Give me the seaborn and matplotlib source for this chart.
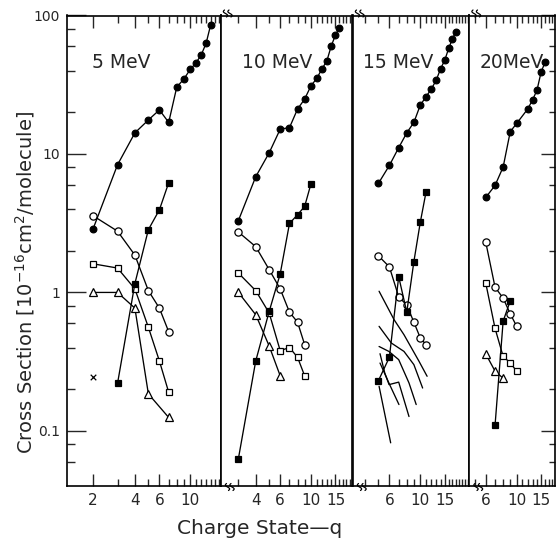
import numpy as np
import pandas as pd
import matplotlib
matplotlib.use("Agg")
import matplotlib.pyplot as plt
import seaborn as sns
from matplotlib.lines import Line2D
from matplotlib.ticker import NullFormatter

sns.set_style("ticks")
plt.rcParams["font.family"] = ["DejaVu Sans"]

# ---------------- data: cross sections (1e-16 cm^2/molecule) vs charge state q
panel_titles = ["5 MeV", "10 MeV", "15 MeV", "20MeV"]

# 5 MeV
q5_fc = [2, 3, 4, 5, 6, 7, 8, 9, 10, 11, 12, 13, 14]
s5_fc = [2.87, 8.35, 14.2, 17.6, 20.8, 16.9, 30.4, 34.8, 40.8, 45.5, 52, 63, 85]
q5_oc = [2, 3, 4, 5, 6, 7]
s5_oc = [3.58, 2.77, 1.86, 1.03, 0.77, 0.52]
q5_os = [2, 3, 4, 5, 6, 7]
s5_os = [1.61, 1.50, 1.06, 0.56, 0.32, 0.19]
q5_tr = [2, 3, 4, 5, 7]
s5_tr = [1.0, 1.0, 0.77, 0.185, 0.125]
q5_fs = [3, 4, 5, 6, 7]
s5_fs = [0.22, 1.16, 2.84, 3.95, 6.2]
q5_x = [2]
s5_x = [0.245]

# 10 MeV
q10_fc = [3, 4, 5, 6, 7, 8, 9, 10, 11, 12, 13, 14, 15, 16]
s10_fc = [3.3, 6.85, 10.2, 15.1, 15.5, 21.1, 24.9, 31.1, 35.1, 41.2, 46.9, 60.4, 72.2, 81.9]
q10_oc = [3, 4, 5, 6, 7, 8, 9]
s10_oc = [2.73, 2.14, 1.46, 1.06, 0.72, 0.61, 0.42]
q10_os = [3, 4, 5, 6, 7, 8, 9]
s10_os = [1.38, 1.03, 0.71, 0.38, 0.40, 0.34, 0.25]
q10_tr = [3, 4, 5, 6]
s10_tr = [1.0, 0.69, 0.41, 0.25]
q10_fs = [3, 4, 5, 6, 7, 8, 9, 10]
s10_fs = [0.063, 0.32, 0.73, 1.36, 3.15, 3.64, 4.18, 6.1]

# 15 MeV
q15_fc = [5, 6, 7, 8, 9, 10, 11, 12, 13, 14, 15, 16, 17, 18]
s15_fc = [6.12, 8.26, 11.1, 14.2, 16.9, 22.5, 25.9, 29.4, 34.0, 41.2, 47.6, 57.8, 67.6, 76.3]
q15_oc = [5, 6, 7, 8, 9, 10, 11]
s15_oc = [1.84, 1.53, 0.93, 0.81, 0.61, 0.47, 0.42]
q15_fs = [5, 6, 7, 8, 9, 10, 11]
s15_fs = [0.23, 0.34, 1.30, 0.72, 1.67, 3.2, 5.3]
# curves drawn without symbols
q15_c1 = [5.06, 6.49, 7.64, 9.8, 11.2]
s15_c1 = [1.02, 0.635, 0.495, 0.318, 0.248]
q15_c2 = [5.06, 6.2, 7.64, 9.0, 10.4]
s15_c2 = [0.569, 0.431, 0.375, 0.301, 0.204]
q15_c3 = [5.06, 5.95, 7.0, 8.3, 9.35]
s15_c3 = [0.407, 0.375, 0.327, 0.222, 0.155]
q15_c4 = [5.14, 5.56, 5.97, 7.0, 8.3]
s15_c4 = [0.361, 0.262, 0.216, 0.225, 0.127]
q15_c5 = [5.14, 5.95, 7.03]
s15_c5 = [0.309, 0.222, 0.155]
q15_c6 = [5.06, 6.13]
s15_c6 = [0.21, 0.082]

# 20 MeV
q20_fc = [6, 7, 8, 9, 10, 12, 13, 14, 15, 16]
s20_fc = [4.85, 5.93, 8.04, 14.5, 16.6, 21.1, 24.5, 28.9, 39.2, 45.9]
q20_oc = [6, 7, 8, 9, 10]
s20_oc = [2.31, 1.09, 0.91, 0.70, 0.57]
q20_os = [6, 7, 8, 9, 10]
s20_os = [1.17, 0.55, 0.345, 0.31, 0.27]
q20_tr = [6, 7, 8]
s20_tr = [0.36, 0.27, 0.24]
q20_fs = [7, 8, 9]
s20_fs = [0.11, 0.62, 0.87]

x_major = [[2, 4, 6, 10], [4, 6, 10, 15], [6, 10, 15], [6, 10, 15]]
y_major = [0.1, 1, 10, 100]
y_major_labels = ["0.1", "1", "10", "100"]
y_minor = [0.06, 0.08, 0.2, 0.4, 0.6, 0.8, 2, 4, 6, 8, 20, 40, 60, 80]

# ---------------- layout (pixel geometry of a 556x540 canvas)
W, H = 556, 540
top_px, bot_px = 15.5, 486.0
edges = [67, 220.5, 352.5, 469, 554.5]
xlims = [(1.30, 16.5), (2.23, 19.9), (3.26, 22.4), (4.55, 18.7)]
title_x = [92, 242, 363, 480]

styles = {
    "fc": dict(marker="o", markersize=4.8, markerfacecolor="black"),
    "oc": dict(marker="o", markersize=5.2, markerfacecolor="white"),
    "os": dict(marker="s", markersize=4.8, markerfacecolor="white"),
    "tr": dict(marker="^", markersize=6.0, markerfacecolor="white"),
    "fs": dict(marker="s", markersize=4.3, markerfacecolor="black"),
    "line": dict(),
}

panels = [
    [(q5_oc, s5_oc, "oc"), (q5_os, s5_os, "os"), (q5_tr, s5_tr, "tr"),
     (q5_fs, s5_fs, "fs"), (q5_fc, s5_fc, "fc")],
    [(q10_oc, s10_oc, "oc"), (q10_os, s10_os, "os"), (q10_tr, s10_tr, "tr"),
     (q10_fs, s10_fs, "fs"), (q10_fc, s10_fc, "fc")],
    [(q15_c1, s15_c1, "line"), (q15_c2, s15_c2, "line"), (q15_c3, s15_c3, "line"),
     (q15_c4, s15_c4, "line"), (q15_c5, s15_c5, "line"), (q15_c6, s15_c6, "line"),
     (q15_oc, s15_oc, "oc"), (q15_fs, s15_fs, "fs"), (q15_fc, s15_fc, "fc")],
    [(q20_oc, s20_oc, "oc"), (q20_os, s20_os, "os"), (q20_tr, s20_tr, "tr"),
     (q20_fs, s20_fs, "fs"), (q20_fc, s20_fc, "fc")],
]

fig = plt.figure(figsize=(W / 100, H / 100), dpi=100)
fig.patch.set_facecolor("white")

axes = []
for i in range(4):
    x0, x1 = edges[i], edges[i + 1]
    ax = fig.add_axes([x0 / W, 1 - bot_px / H, (x1 - x0) / W, (bot_px - top_px) / H])
    ax.set_facecolor("white")
    ax.set_xscale("log")
    ax.set_yscale("log")
    ax.set_xlim(*xlims[i])
    ax.set_ylim(0.04, 100)

    for q, v, kind in panels[i]:
        sns.lineplot(x=q, y=v, ax=ax, color="black", linewidth=0.95,
                     markeredgecolor="black", markeredgewidth=0.9,
                     errorbar=None, sort=False, legend=False, **styles[kind])
    if i == 0:
        sns.scatterplot(x=q5_x, y=s5_x, ax=ax, marker="x", s=16, color="black",
                        linewidth=0.9, legend=False)

    # x ticks: labelled majors, every integer as minor
    lo, hi = xlims[i]
    minors = [k for k in range(int(np.ceil(lo)), int(hi) + 1) if k not in x_major[i]]
    ax.set_xticks(x_major[i], labels=[str(m) for m in x_major[i]])
    ax.set_xticks(minors, minor=True)
    ax.xaxis.set_minor_formatter(NullFormatter())
    ax.tick_params(axis="x", which="both", direction="in", top=True, bottom=True,
                   width=1.0, labelsize=11, pad=5)
    ax.tick_params(axis="x", which="major", length=8.5)
    ax.tick_params(axis="x", which="minor", length=5)

    ax.set_yticks(y_major, labels=y_major_labels)
    ax.set_yticks(y_minor, minor=True)
    ax.yaxis.set_minor_formatter(NullFormatter())
    if i == 0:
        ax.tick_params(axis="y", which="both", direction="in", left=True, right=False,
                       labelleft=True, width=1.0, labelsize=10, pad=5)
        ax.tick_params(axis="y", which="major", length=14)
        ax.tick_params(axis="y", which="minor", length=5.5)
    elif i == 3:
        ax.tick_params(axis="y", which="both", direction="in", left=False, right=True,
                       labelleft=False, labelright=False, width=1.0)
        ax.tick_params(axis="y", which="major", length=10)
        ax.tick_params(axis="y", which="minor", length=4.5)
    else:
        ax.tick_params(axis="y", which="both", left=False, right=False,
                       labelleft=False, labelright=False)

    for sp in ax.spines.values():
        sp.set_visible(True)
        sp.set_color("black")
        sp.set_linewidth(1.2)
    ax.set_xlabel("")
    ax.set_ylabel("")

    fig.text(title_x[i] / W, 1 - 63 / H, panel_titles[i], fontsize=13.5,
             ha="left", va="center")
    axes.append(ax)


# axis-break marks at the panel joins
def break_mark(px, py):
    t = np.linspace(0, 1, 40)
    for dx in (0.0, 4.5):
        xs = px + dx + 1.6 * np.sin(2 * np.pi * t) * -1 + 2.0 * (t - 0.5)
        ys = py + 7.0 * (t - 0.5)
        fig.add_artist(Line2D(xs / W, 1 - ys / H, transform=fig.transFigure,
                              color="black", linewidth=0.9))


for bx in edges[1:4]:
    break_mark(bx + 5, top_px - 2)
    break_mark(bx + 7, bot_px + 1)

fig.text(25 / W, 1 - 282 / H, r"Cross Section [10$^{-16}$cm$^{2}$/molecule]",
         rotation=90, ha="center", va="center", fontsize=14)
fig.text(260 / W, 1 - 529 / H, "Charge State\u2014q", ha="center", va="center",
         fontsize=14.5)

fig.savefig("out.png", dpi=100, facecolor="white")
